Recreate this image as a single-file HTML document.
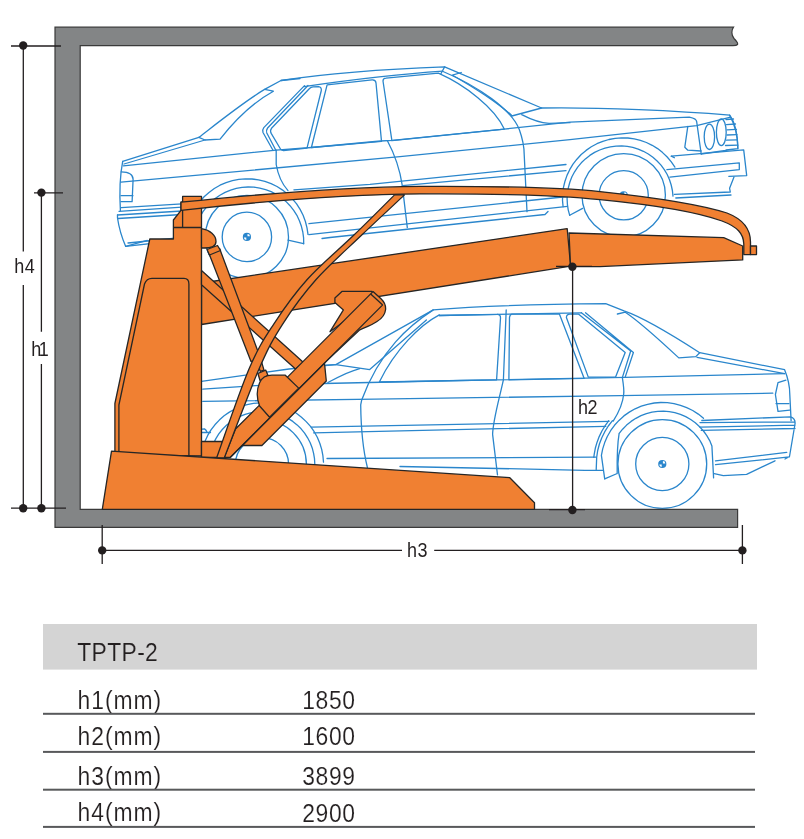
<!DOCTYPE html>
<html><head><meta charset="utf-8">
<style>
html,body{margin:0;padding:0;background:#fff;width:804px;height:839px;overflow:hidden;}
svg{position:absolute;left:0;top:0;display:block;will-change:transform;}
text{font-family:"Liberation Sans",sans-serif;fill:#231f20;}
</style></head>
<body>
<svg width="804" height="839" viewBox="0 0 804 839">
<!-- ===== CARS ===== -->
<g id="cars" fill="none" stroke="#2a86cc" stroke-width="1.3" stroke-linejoin="round" stroke-linecap="round">
  <path d="M122.7,161.3 L198.9,137.3 C220,121 245,101 264.6,89.4 L281,80.5 C330,73 400,68.5 444.6,66.9 L541.6,108 C600,107 680,111 729.6,115.1 C735,125 738,138 737.8,148.7"/>
  <path d="M198.9,137.3 L205,140 L220.1,139.1 C232,124 252,103 273.4,91.2 L264.6,89.4"/>
  <path d="M124,164 L205,140"/>
  <path d="M123.4,165.8 L276.2,150.1 L311.4,147.5 L380.6,141 L392.4,140.3 L504.3,129.1 L570,122.2 L689.3,117.1 C694,118 696.7,120 696.7,121.9 L701.2,154"/>
  <path d="M121,182.2 L400,156.6 L570,139.6 L696.7,125.6 L729.6,117.4"/>
  <path d="M293.9,189.8 L370,184.4 L566,164.5"/>
  <path d="M402.3,185.6 L566,170.7"/>
  <path d="M122.7,161.3 C120,175 119.5,195 120.4,210.6"/>
  <path d="M121.2,171.8 C130,172 133.1,175 133.1,179.3 L132.1,201.6 L121,201.6 M121,195.7 L133,195.7"/>
  <path d="M121.2,207.6 L182,203.8 M119,211.3 L182,207.2 M117.5,215 L182,211 M118,218.5 L182,214.5 M125.7,246.4 L182,240 M128,243 L182,237.5"/>
  <path d="M117.5,215 L117.5,218 C119,228 122,238 125.7,246.4 L147.3,240.4"/>
  <path d="M308.9,223.7 L567.4,196.5 M308.9,234.6 L567.4,206.4 M322,238.5 L330,237.5 L545,214.5 L548,211.5"/>
  <path d="M276.2,150.1 L276.2,164.5 C278,175 282,184 288,190.6"/>
  <path d="M387.4,140.8 C395,155 400,170 402.3,185.6 L407.3,227.6"/>
  <path d="M443,71.5 C478,86 512,110 519.3,129.6 C523,140 524.2,150 524.2,154.5 L527,211.7"/>
  <path d="M461.3,72.5 L452.4,75.2 C475,88 500,105 511.8,115.5"/>
  <path d="M304.5,85.6 L263.8,127.6 Q262,130 263,132.5 L273.1,150.5 M308,85.5 L267.6,128 Q265.8,130.5 266.8,133 L276,150.5"/>
  <path d="M313,86.9 L318.5,86.6 Q321.8,87 321.3,90.5 L307,148.2 L283.5,150.5 Q281.5,150.6 280.5,149 L271.2,133.4 Q269.8,130.5 271.5,128.3 L309.5,88.5 Q311,87 313,86.9 Z"/>
  <path d="M327.1,84.8 L372,79.9 Q375.7,79.6 376,83 L381.5,141.4 L311.4,147.5 Z"/>
  <path d="M304,86.6 C350,80 400,74 442.8,71.2"/>
  <path d="M386,78.2 L438.4,73.2 C465,85 495,108 504.3,129.1 L391.9,140.6 L383,81 Q383,78.4 386,78.2 Z"/>
  <path d="M511.8,116 L541.6,108 M521.7,114.7 C530,119 540,123 549.1,123.4 L570,122.7"/>
  <path d="M281,80.5 L300,78.5 M444.6,66.9 L440.9,73.7"/>
  <path d="M687.8,126.3 L684.8,147.2 L687.8,150.2 L701.2,151"/>
  <path d="M726,119.5 L733.5,119 M726.5,124.6 L735.5,124 M727,129.8 L736.5,129.3 M727,135 L737,134.6 M726.5,140.2 L737.3,139.8 M725.5,145.5 L737.8,145.2"/>
  <path d="M671.3,156.2 L743.7,149.9 L746.7,175.6 L728.8,176.3"/>
  <path d="M666.9,169.6 L739.3,162.9 L739.3,169.6 L669.9,177.1"/>
  <path d="M674.3,194.3 L730.3,192 L729.6,188.3 L734,177 M675.8,198 L731,195"/>
  <path d="M674.3,157.7 L671.3,156.2"/>
  <path d="M729.6,115.1 C735,122 737.5,135 737.8,148.7 L726,150 M701.2,154 L737.8,148.7"/>
  <path d="M195.8,227.7 L197.6,222.1 L200.0,216.7 L203.0,211.6 L206.6,206.8 L210.6,202.5 L215.1,198.6 L219.9,195.2 L225.1,192.4 L230.6,190.1 L236.3,188.4 L242.1,187.4 L248.1,187.0 L254.0,187.2 L259.8,188.1 L265.6,189.6 L271.1,191.7 L276.4,194.4 L281.3,197.7 L285.9,201.4 L290.0,205.7 L293.7,210.3 L296.9,215.3 L299.4,220.7 L301.4,226.3 L302.8,232.0 L303.6,237.9 L303.7,243.8"/>
  <path d="M190.1,218.9 L192.7,212.8 L195.9,207.1 L199.7,201.7 L204.1,196.8 L209.0,192.4 L214.3,188.5 L220.0,185.2 L226.1,182.6 L232.4,180.7 L238.8,179.4 L245.4,178.8 L252.0,179.0 L258.5,179.8 L264.9,181.4 L271.1,183.6 L277.0,186.5 L282.6,190.1 L287.7,194.2 L292.4,198.8 L296.6,203.9 L300.1,209.4 L303.1,215.3 L305.4,221.5 L307.0,227.9 L308.0,234.4"/>
  <path d="M288,240.1 L303.6,243.6"/>
  <path d="M569.7,215.3 L568.2,209.8 L567.4,204.3 L567.1,198.6 L567.4,193.0 L568.4,187.5 L569.9,182.0 L571.9,176.8 L574.6,171.8 L577.7,167.1 L581.3,162.8 L585.4,158.9 L589.8,155.4 L594.6,152.4 L599.7,150.0 L605.0,148.1 L610.4,146.8 L616.0,146.1 L621.7,145.9 L627.3,146.4 L632.8,147.4 L638.2,149.1 L643.4,151.3 L648.3,154.0 L652.9,157.3 L657.1,161.0 L661.0,165.1 L664.3,169.7 L667.2,174.5 L669.5,179.7 L671.2,185.0 L672.4,190.5 L673.0,196.1"/>
  <path d="M563.1,206.7 L562.5,200.4 L562.7,194.0 L563.4,187.7 L564.9,181.5 L567.0,175.4 L569.7,169.7 L573.0,164.2 L576.9,159.2 L581.2,154.5 L586.1,150.4 L591.3,146.8 L596.9,143.7 L602.8,141.3 L608.9,139.5 L615.2,138.3 L621.5,137.8 L627.9,138.0 L634.2,138.9 L640.4,140.4 L646.4,142.5 L652.2,145.3 L657.6,148.6 L662.6,152.6 L667.2,157.0 L671.3,161.9 L674.9,167.1"/>
  <path d="M569.7,215.3 L582.6,208.4"/>
  <path d="M201.5,381.3 L289,369 L335.8,364.6 L433.3,309.9 C480,306 560,304 605.7,303.6 L624,310.9 C645,318 680,340 699.7,352.7 L784.6,369.7 C788,378 789.8,388 789.8,394.5 L791.1,420.6"/>
  <path d="M617.4,314 L625.3,312.2 C640,322 665,345 678.8,357.9 L695.8,356.6 L699.7,352.7"/>
  <path d="M697.1,357.4 L784.6,373.6"/>
  <path d="M439.3,315.5 L581.4,312.8"/>
  <path d="M335.8,364.6 L369.7,369.6 L426.4,319.9"/>
  <path d="M433.3,309.9 C410,325 380,350 361.7,400 L360.7,404.8 C361,430 363,450 367.4,467.5"/>
  <path d="M439.3,314.9 C420,325 395,350 379.6,381.5"/>
  <path d="M325.9,365.2 L335.8,364.6 M327.9,382.5 C340,376 350,371 359.7,368.6"/>
  <path d="M202.2,429.2 L204.5,428.9 C205.5,429.5 206.6,431 207.2,432.5 M202.2,432.5 L210.5,432.5"/>
  <path d="M439,315.5 L497,314.4 Q500.7,314.2 500.5,318 L496.6,379.8 L379.4,382"/>
  <path d="M506.2,310 L503.4,379.8 C499,400 493,420 492.6,434.4 L497.5,474.8"/>
  <path d="M512,314.2 L559.5,314.2 L584.2,378.4 L508.9,379.8 L509.5,317.5 Q510,314.2 512,314.2 Z"/>
  <path d="M570,314.2 L578.7,314.2 L625.2,352.5 L615.6,377.1 L588.3,377.1 L566.4,317.5 Q566.5,314.2 570,314.2 Z"/>
  <path d="M581.4,312.8 L630.7,351 L622.5,377.1 M585.5,312.8 L633.4,352.5 L625.2,377.1"/>
  <path d="M202.8,389.1 L255.4,385.7 L323.9,383.5 L460,380.5 L625,377.4 L784.6,373.6"/>
  <path d="M202.8,401.4 L375,399.2 L620,395.6 L772.8,393.2"/>
  <path d="M311.4,427.2 L609,421.4 M313.6,432.8 L605.8,426.3"/>
  <path d="M327,458.5 L595.6,457.2 M400,466.5 L585,470.3 L602.8,470.3"/>
  <path d="M622.4,377.9 C623.5,385 624,392 623.7,394 C623,402 619,412 613.2,421.1"/>
  <path d="M785.9,380.1 L778,382.7 L775.4,394.5 L778,411.4 L789.8,410.1 M776,403.6 L789,403.6"/>
  <path d="M701.8,420.5 L790.6,416.8 C794,418 795.5,420 795,424 L789.5,456.5 L785,459 M700,422.6 L794.4,422 M700,427.2 L795,425.2 M701.3,430.4 L795,428.5 M715.5,460.8 L786.7,452.4 M715.5,464.7 L789.3,456.9 M714.2,473.7 L723.3,475.7 L746.6,474.4 L775,460.8"/>
  <path d="M703.5,418.3 L698.3,414.1 L692.7,410.5 L686.7,407.6 L680.5,405.3 L674.0,403.6 L667.4,402.7 L660.8,402.5 L654.2,403.0 L647.6,404.3 L641.3,406.2 L635.1,408.8 L629.3,412.1 L623.9,415.9 L619.0,420.4 L614.5,425.3 L610.6,430.7 L607.3,436.5 L604.7,442.6 L602.7,448.9 L601.4,455.4 L604.7,478.8"/>
  <path d="M617.2,473.5 C617,460 617.2,445 619.1,433.7 L619.0,433.7 L622.6,429.2 L626.6,425.1 L631.1,421.4 L635.9,418.3 L641.0,415.7 L646.4,413.6 L652.0,412.2 L657.7,411.4 L663.5,411.2 L669.2,411.7 L674.8,412.7 L680.4,414.4 L685.7,416.6 L690.7,419.5 L695.3,422.8 L699.6,426.7 L703.5,431.0 L706.8,435.6 L709.7,440.6 L711.9,445.9 L713.6,477.9 M604.7,478.8 L617.2,473.5"/>
  <path d="M612.5,420.7 L608.3,426.0 L604.8,431.7 L601.8,437.7 L599.4,444.0 L597.7,450.5 L596.7,457.1 L596.2,469.6"/>
  <path d="M608.8,420.7 L605.2,425.7 L601.9,431.0 L599.2,436.6 L597.0,442.4 L595.3,448.3 L594.2,454.4 L593.8,457.3"/>
  <path d="M201.4,453.6 L202.9,447.3 L205.0,441.3 L207.7,435.4 L211.0,429.9 L214.9,424.8 L219.3,420.1 L224.1,415.8 L229.4,412.1 L235.0,409.0 L241.0,406.5 L247.1,404.6 L253.4,403.4 L259.9,402.8 L266.3,402.9 L272.7,403.7 L279.0,405.2 L285.0,407.3 L290.9,410.0 L296.4,413.3 L301.5,417.2 L306.2,421.6 L310.5,426.4 L314.2,431.7 L317.3,437.3 L319.8,443.3 L321.7,449.4 L322.9,455.7 L323.5,462.2"/>
  <path d="M209.4,459.7 L210.2,454.2 L211.5,448.8 L213.4,443.6 L215.9,438.6 L218.8,433.9 L222.3,429.5 L226.2,425.5 L230.4,422.0 L235.1,418.9 L240.0,416.3 L245.1,414.3 L250.5,412.8 L256.0,411.8 L261.5,411.5 L267.1,411.7 L272.6,412.6 L278.0,414.0 L283.2,415.9 L288.1,418.4 L292.8,421.4 L297.1,424.9 L301.1,428.8 L304.6,433.1 L307.6,437.8 L310.2,442.7 L312.2,447.9 L313.6,453.3 L314.5,458.7 L314.8,464.3"/>
  <circle cx="246.9" cy="236.9" r="24.7"/>
  <circle cx="246.9" cy="236.9" r="41.6"/>
  <circle cx="623.7" cy="195.3" r="24.6"/>
  <circle cx="623.7" cy="195.3" r="41.7"/>
  <circle cx="662.3" cy="464.0" r="26.6"/>
  <circle cx="662.3" cy="464.0" r="44.4"/>
  <circle cx="262.0" cy="464.3" r="26.6"/>
  <circle cx="262.0" cy="464.3" r="44.4"/>
  <ellipse cx="709.4" cy="136.8" rx="5.2" ry="12.7"/>
  <ellipse cx="721.3" cy="132.3" rx="4.9" ry="13.4"/>
  <circle cx="246.9" cy="236.9" r="4.1" fill="#2a86cc" stroke="none"/><path d="M247.5,236.3 h2.4 a2.4,2.4 0 0,0 -2.4,-2.4 Z M246.3,237.5 h-2.4 a2.4,2.4 0 0,0 2.4,2.4 Z" fill="#fff" stroke="none"/><circle cx="623.7" cy="195.3" r="4.1" fill="#2a86cc" stroke="none"/><path d="M624.3,194.7 h2.4 a2.4,2.4 0 0,0 -2.4,-2.4 Z M623.1,195.9 h-2.4 a2.4,2.4 0 0,0 2.4,2.4 Z" fill="#fff" stroke="none"/><circle cx="662.3" cy="464.0" r="4.1" fill="#2a86cc" stroke="none"/><path d="M662.9,463.4 h2.4 a2.4,2.4 0 0,0 -2.4,-2.4 Z M661.7,464.6 h-2.4 a2.4,2.4 0 0,0 2.4,2.4 Z" fill="#fff" stroke="none"/>
</g>

<!-- ===== FRAME ===== -->
<path d="M55,27.2 L733.5,27.2 C731.5,30 731,35 734,38.5 C736.5,41 738.5,43 737.5,44.5 C736.5,45.7 735,45.7 733,45.7 L80.2,45.7 L80.2,509.3 L737.6,509.3 L737.6,527.3 L55,527.3 Z" fill="#838586" stroke="#3a3a3a" stroke-width="1.2"/>

<!-- ===== LIFT ===== -->
<g id="lift" fill="#f08032" stroke="#262626" stroke-width="1.3" stroke-linejoin="round">
  <!-- upper platform left segment -->
  <path d="M201.5,283 L567.2,228.6 L570.6,266.2 L201.5,324.5 Z"/>
  <!-- upper platform right segment -->
  <path d="M569,233 L723.7,237.7 L742.7,246 L742.7,259.9 L600,266.6 L570.6,266.7 Z"/>
  <!-- column -->
  <path d="M114.9,455 L114.9,403.5 L149.8,239 L173.4,239 L173.4,220 L181,210.3 L181,202.2 L182.6,202 L182.6,196.4 L201.5,196.4 L201.5,456 Z"/>
  <path d="M182.6,203 L182.6,227.5 M173.4,227.5 L201.5,227.5" fill="none"/>
  <path d="M118.9,455 L118.9,405 L144.5,284 Q146.5,278.3 152,278.3 L184,278.3 Q188.9,278.3 188.9,284 L188.9,456" fill="none"/>
  <!-- arm B link -->
  <path d="M201.5,270.5 L303.5,362.4 L295.5,369.1 L201.5,284.7 Z"/>
  <!-- arch bar -->
  <path d="M181,202.2 C260,194 350,187 420,186.4 C500,186 560,187.5 600,191.6 C660,198 705,206 727,213 C745,220 750.5,230 750.5,242 L750.5,254.6 L743.8,254.6 L743.8,244 C743.5,234 738,227 722,221 C700,213 655,205 600,199.6 C560,195.5 500,193.5 420,193.9 C350,194.5 260,201.5 181,210.3 Z"/>
  <rect x="750.5" y="246" width="6" height="8.6"/>
  <!-- pivot blob -->
  <path d="M201.5,228.7 C210,230 216,235 216,241.4 C216,246 211,248 204,248 L201.5,248 Z"/>
  <!-- arm A -->
  <path d="M208.4,252 L219.6,248.5 L261,359.6 L251,361.5 Z"/>
  <path d="M207,249.5 L217.5,245.5 L220.5,250.5 L209.5,255 Z"/>
  <!-- rod to bulb -->
  <path d="M257.9,361.8 L261.2,360.6 L264,370.1 L260.1,371.3 Z"/>
  <path d="M257.9,373.5 L265.7,370.1 L267.9,375.2 L260.1,380.8 Z"/>
  <!-- small block near base -->
  <rect x="201.5" y="441.5" width="20.5" height="16"/>
  <!-- bracket on platform -->
  <path d="M341.9,291.4 L372,291.4 L376,298 L330,331.7 L343.4,309.9 L334.9,302.4 L334.9,297.9 Z"/>
  <!-- sleeve -->
  <path d="M242.2,445.5 L261.9,445.5 L326.3,381 L324.5,363.1 Z"/>
  <!-- tube -->
  <path d="M224.2,457.5 L235.5,429 L258.7,405.9 L370.7,293.9 L373,291.6 L381,298.8 Q386,303.5 385.6,309.5 C385,315 382,318.5 377,321.5 C371,325.5 365,327.5 359.8,329.8 L327,360.6 L230.2,457.5 Z"/>
  <path d="M230.2,457.5 L382.7,304.9 M370.7,293.9 L382.7,304.9" fill="none"/>
  <!-- bulb -->
  <path d="M259.6,406 C256.5,398 256.5,390 259.5,383 C262,377 266,375.2 272,375.2 L285.3,375.2 L298.7,388.1 L269.6,417.2 Z"/>
  <!-- curved brace C -->
  <path d="M216.6,458.0 C222.0,443.2 239.5,391.4 249.0,369.1 C258.5,346.8 263.9,339.2 273.6,324.3 C283.3,309.4 293.8,294.4 307.2,279.5 C320.6,264.6 339.6,248.9 354.2,234.8 C368.8,220.7 387.8,201.6 394.5,194.9 L404.5,194.9 C397.4,201.6 376.7,220.7 362.0,234.8 C347.3,248.9 329.4,264.6 316.1,279.5 C302.9,294.4 292.0,309.4 282.5,324.3 C273.0,339.2 268.7,346.8 259.0,369.1 C249.3,391.4 230.0,443.2 224.2,458.0 Z"/>
  <!-- base -->
  <path d="M102.3,509.3 L111.5,451.1 L509.8,477.7 L534.5,502.8 L534.5,509.3 Z"/>
</g>

<!-- ===== DIMENSIONS ===== -->
<g id="dims" stroke="#231f20" stroke-width="1.3" fill="none">
  <!-- h4 -->
  <path d="M11,46 H61 M23.3,46 V251.6 M23.3,285 V508.2 M11,508.2 H66"/>
  <!-- h1 -->
  <path d="M34,192.8 H63 M41.4,192.8 V331.8 M41.4,364 V508.2"/>
  <!-- h3 -->
  <path d="M102.2,525 V564 M742.4,525 V564 M102.2,550.4 H402 M434.2,550.4 H742.4"/>
  <!-- h2 -->
  <path d="M572.6,266.7 V509.5 M549,509.6 H585 M556,266.4 H592"/>
</g>
<g fill="#231f20">
  <circle cx="23.2" cy="45.5" r="4.2"/>
  <circle cx="23.2" cy="508.2" r="4.2"/>
  <circle cx="41.4" cy="192.6" r="4.2"/>
  <circle cx="41.4" cy="508.2" r="4.2"/>
  <circle cx="102.2" cy="550.4" r="4.2"/>
  <circle cx="742.4" cy="550.4" r="4.2"/>
  <circle cx="572.4" cy="266.7" r="4.2"/>
  <circle cx="572.4" cy="510" r="4.2"/>
</g>
<g font-size="20">
<text transform="translate(14.2,273.0) scale(0.9,1)" x="0" y="0" textLength="22.8" lengthAdjust="spacing">h4</text>
<text transform="translate(31.2,356.2) scale(0.9,1)" x="0" y="0" textLength="19.4" lengthAdjust="spacing">h1</text>
<text transform="translate(406.9,557.0) scale(0.9,1)" x="0" y="0" textLength="22.8" lengthAdjust="spacing">h3</text>
<text transform="translate(578.0,414.2) scale(0.9,1)" x="0" y="0" textLength="21.8" lengthAdjust="spacing">h2</text>
</g>

<!-- ===== TABLE ===== -->
<rect x="43" y="624" width="714" height="45.6" fill="#d4d4d4"/>

<g font-size="26" stroke-width="0.15" style="stroke-linejoin:round">
  <text transform="translate(77.3,660.7) scale(0.88,1)" x="0" y="0" textLength="91.5" lengthAdjust="spacing" stroke="#d4d4d4">TPTP-2</text>
  <text transform="translate(77.6,708.6) scale(0.88,1)" x="0" y="0" textLength="94.9" lengthAdjust="spacing" stroke="#fff">h1(mm)</text>
  <text transform="translate(77.6,744.9) scale(0.88,1)" x="0" y="0" textLength="94.9" lengthAdjust="spacing" stroke="#fff">h2(mm)</text>
  <text transform="translate(77.6,784.9) scale(0.88,1)" x="0" y="0" textLength="94.9" lengthAdjust="spacing" stroke="#fff">h3(mm)</text>
  <text transform="translate(77.6,821.4) scale(0.88,1)" x="0" y="0" textLength="94.9" lengthAdjust="spacing" stroke="#fff">h4(mm)</text>
  <text transform="translate(302.2,708.8) scale(0.88,1)" x="0" y="0" textLength="60.0" lengthAdjust="spacing" stroke="#fff">1850</text>
  <text transform="translate(302.2,745.1) scale(0.88,1)" x="0" y="0" textLength="60.0" lengthAdjust="spacing" stroke="#fff">1600</text>
  <text transform="translate(302.2,785.1) scale(0.88,1)" x="0" y="0" textLength="60.0" lengthAdjust="spacing" stroke="#fff">3899</text>
  <text transform="translate(302.2,821.7) scale(0.88,1)" x="0" y="0" textLength="60.0" lengthAdjust="spacing" stroke="#fff">2900</text>
</g>
<g fill="#58595b">
  <rect x="43" y="712.8" width="712" height="2"/>
  <rect x="43" y="750.9" width="712" height="2"/>
  <rect x="43" y="788.7" width="712" height="2"/>
  <rect x="43" y="825.9" width="712" height="2"/>
</g>
</svg>
</body></html>
